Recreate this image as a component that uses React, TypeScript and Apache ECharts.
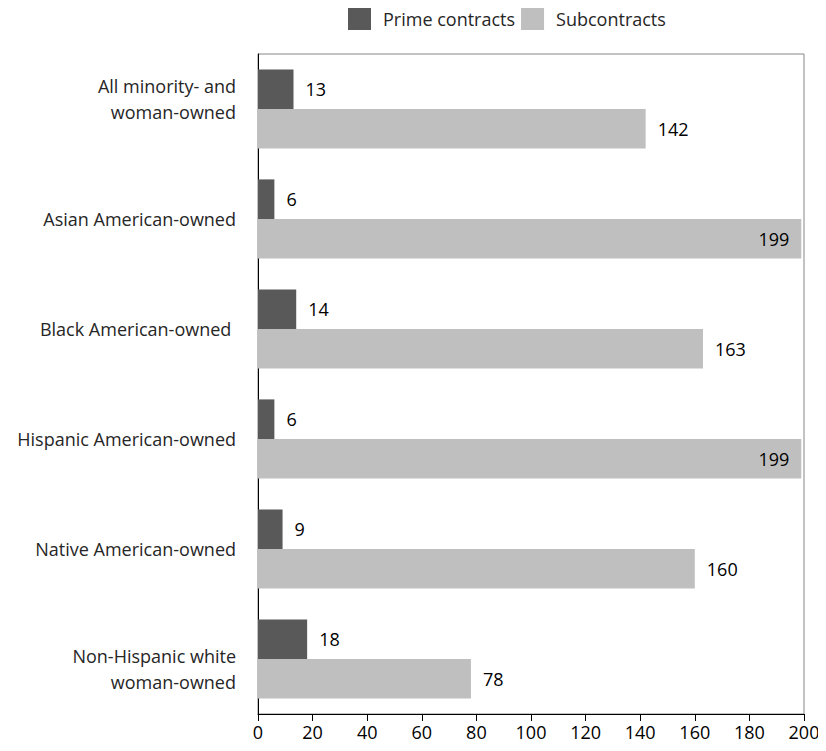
import React, { useEffect, useRef } from "react";
import * as echarts from "echarts";

const categories = [
  "All minority- and\nwoman-owned",
  "Asian American-owned",
  "Black American-owned ",
  "Hispanic American-owned",
  "Native American-owned",
  "Non-Hispanic white\nwoman-owned",
];
const primeValues = [13, 6, 14, 6, 9, 18];
const subValues = [142, 199, 163, 199, 160, 78];
const xTicks = { min: 0, max: 200, interval: 20 };

const FONT = "'Open Sans', 'Noto Sans', sans-serif";

export default function App() {
  const ref = useRef<HTMLDivElement>(null);
  useEffect(() => {
    if (!ref.current) return;
    const chart = echarts.init(ref.current, null, { renderer: "svg" });
    const labelFor = (v: number) =>
      v >= 190
        ? { show: true, position: "insideRight", distance: 12 }
        : { show: true, position: "right", distance: 12 };
    const last = categories.length - 1;
    chart.setOption({
      animation: false,
      textStyle: { fontFamily: FONT },
      legend: {
        top: 0,
        left: 340,
        padding: 0,
        itemWidth: 23,
        itemHeight: 22,
        itemGap: 6,
        icon: "rect",
        textStyle: {
          fontSize: 18,
          color: "#262626",
          fontFamily: FONT,
          padding: [0, 0, 0, 7],
        },
        data: ["Prime contracts", "Subcontracts"],
      },
      grid: {
        left: 250,
        width: 546,
        top: 46,
        bottom: 29,
        containLabel: false,
        outerBoundsMode: "none",
        show: true,
        borderColor: "#868686",
        borderWidth: 1,
        backgroundColor: "transparent",
      },
      xAxis: {
        type: "value",
        min: xTicks.min,
        max: xTicks.max,
        interval: xTicks.interval,
        axisLine: { show: true, lineStyle: { color: "#000", width: 1 } },
        axisTick: { show: true, length: 7, lineStyle: { color: "#000" } },
        splitLine: { show: false },
        axisLabel: { fontSize: 18, color: "#000", margin: 9, fontFamily: FONT },
      },
      yAxis: {
        type: "category",
        inverse: true,
        data: categories,
        axisLine: { show: true, lineStyle: { color: "#000", width: 1 } },
        axisTick: { show: false },
        axisLabel: {
          fontSize: 18,
          color: "#262626",
          margin: 22,
          lineHeight: 26,
          align: "right",
          fontFamily: FONT,
          formatter: (value: string, index: number) =>
            index === 0
              ? value + "\n{gap| }"
              : index === last
              ? "{gap| }\n" + value
              : value,
          rich: {
            gap: { fontSize: 10, lineHeight: 20 },
          },
        },
      },
      series: [
        {
          name: "Prime contracts",
          type: "bar",
          data: primeValues.map((v) => ({ value: v, label: labelFor(v) })),
          itemStyle: { color: "#595959" },
          barGap: "0%",
          barCategoryGap: "28%",
          label: { fontSize: 18, color: "#000", fontFamily: FONT },
        },
        {
          name: "Subcontracts",
          type: "bar",
          data: subValues.map((v) => ({ value: v, label: labelFor(v) })),
          itemStyle: { color: "#bfbfbf" },
          barGap: "0%",
          barCategoryGap: "28%",
          label: { fontSize: 18, color: "#000", fontFamily: FONT },
        },
      ],
    });
    return () => chart.dispose();
  }, []);
  return <div ref={ref} style={{ width: 810, height: 735 }} />;
}
